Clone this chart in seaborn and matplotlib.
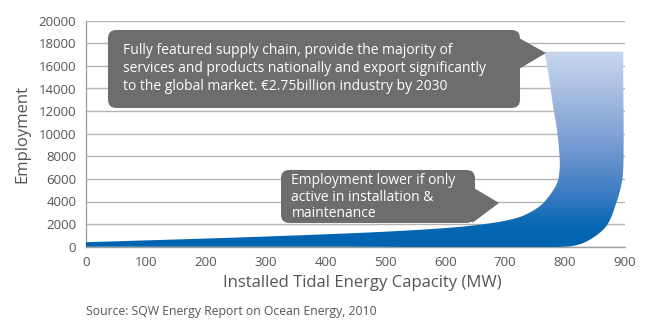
import numpy as np
import matplotlib
matplotlib.use("Agg")
import matplotlib.pyplot as plt
from matplotlib.patches import Polygon, FancyBboxPatch
from matplotlib.colors import LinearSegmentedColormap
import seaborn as sns

# Outline of the employment band (capacity in MW, employment in jobs)
upper_mw = [0, 100, 200, 300, 400, 500, 600, 650, 700, 730, 758, 775, 787, 791, 790, 786, 780, 773, 766]
upper_jobs = [400, 560, 720, 900, 1100, 1330, 1650, 1900, 2300, 2750, 3600, 4600, 5700, 7000, 8500, 10500, 12400, 15000, 17260]
lower_mw = [0, 400, 799, 815, 835, 868, 887, 895, 897, 897]
lower_jobs = [0, 0, 0, 90, 440, 1770, 4130, 5800, 6800, 17260]

x_ticks = list(range(0, 901, 100))
y_ticks = list(range(0, 20001, 2000))

note_high = ("Fully featured supply chain, provide the majority of\n"
             "services and products nationally and export significantly\n"
             "to the global market. \u20ac2.75billion industry by 2030")
note_low = "Employment lower if only\nactive in installation &\nmaintenance"
source = "Source: SQW Energy Report on Ocean Energy, 2010"


def smooth_edge(xs, ys, n=24):
    """Centripetal Catmull-Rom curve through the given outline points (in pixel-like scale)."""
    sx, sy = 1 / 0.599, 88.5  # data units per pixel
    p = np.column_stack([np.asarray(xs, float) / sx, np.asarray(ys, float) / sy])
    p = np.vstack([2 * p[0] - p[1], p, 2 * p[-1] - p[-2]])
    out = []
    for i in range(1, len(p) - 2):
        p0, p1, p2, p3 = p[i - 1], p[i], p[i + 1], p[i + 2]
        t0 = 0.0
        t1 = t0 + max(np.linalg.norm(p1 - p0), 1e-6) ** 0.5
        t2 = t1 + max(np.linalg.norm(p2 - p1), 1e-6) ** 0.5
        t3 = t2 + max(np.linalg.norm(p3 - p2), 1e-6) ** 0.5
        for t in np.linspace(t1, t2, n, endpoint=False):
            a1 = (t1 - t) / (t1 - t0) * p0 + (t - t0) / (t1 - t0) * p1
            a2 = (t2 - t) / (t2 - t1) * p1 + (t - t1) / (t2 - t1) * p2
            a3 = (t3 - t) / (t3 - t2) * p2 + (t - t2) / (t3 - t2) * p3
            b1 = (t2 - t) / (t2 - t0) * a1 + (t - t0) / (t2 - t0) * a2
            b2 = (t3 - t) / (t3 - t1) * a2 + (t - t1) / (t3 - t1) * a3
            out.append((t2 - t) / (t2 - t1) * b1 + (t - t1) / (t2 - t1) * b2)
    out.append(p[-2])
    out = np.array(out)
    return out[:, 0] * sx, out[:, 1] * sy


sns.set_theme(style="whitegrid")
plt.rcParams["font.family"] = ["Open Sans", "DejaVu Sans"]

fig = plt.figure(figsize=(6.51, 3.23), dpi=100)
ax = fig.add_axes([86 / 651, 1 - 246.7 / 323, (625 - 86) / 651, (246.7 - 20.7) / 323])

ax.set_xlim(0, 900)
ax.set_ylim(0, 20000)
ax.set_xticks(x_ticks)
ax.set_yticks(y_ticks)
ax.grid(axis="y", color="#b4b4b4", linewidth=1.0)
ax.grid(axis="x", visible=False)
for side in ("top", "right"):
    ax.spines[side].set_visible(False)
for side in ("left", "bottom"):
    ax.spines[side].set_visible(True)
    ax.spines[side].set_color("#a0a0a0")
    ax.spines[side].set_linewidth(1.0)
ax.tick_params(axis="both", colors="#a0a0a0", labelcolor="#555555", labelsize=9.5,
               direction="out", length=4, width=1, pad=3)

# Band polygon with vertical gradient fill
ux, uy = smooth_edge(upper_mw, upper_jobs)
lx, ly = smooth_edge(lower_mw, lower_jobs)
outline = np.vstack([np.column_stack([lx, ly]), np.column_stack([ux[::-1], uy[::-1]])])
band = Polygon(outline, closed=True, facecolor="none", edgecolor="none", transform=ax.transData)
ax.add_patch(band)
cmap = LinearSegmentedColormap.from_list(
    "band", [(0.0, "#0063af"), (0.1, "#0667b3"), (0.3, "#427fc3"),
             (0.55, "#7c9fd4"), (0.8, "#a9bfe3"), (1.0, "#c9d6ef")])
grad = np.linspace(0, 1, 256).reshape(-1, 1)
img = ax.imshow(grad, cmap=cmap, origin="lower", aspect="auto",
                extent=[0, 900, 0, max(upper_jobs)], zorder=3, interpolation="bicubic")
img.set_clip_path(band)
ax.set_xlim(0, 900)
ax.set_ylim(0, 20000)

callout = "#6d6d6d"
# Callout above the curve
ax.add_patch(FancyBboxPatch((36.7, 12275), 724.7 - 36.7, 19180 - 12275,
                            boxstyle="round,pad=0,rounding_size=14", mutation_aspect=53,
                            facecolor=callout, edgecolor="none", zorder=4))
ax.add_patch(Polygon([(720, 18560), (768, 17140), (720, 15640)], closed=True,
                     facecolor=callout, edgecolor="none", zorder=4))
ax.text(61, 18020, note_high, color="white", fontsize=10, va="top", ha="left",
        linespacing=1.25, zorder=5)

# Callout for the lower scenario
ax.add_patch(FancyBboxPatch((325.6, 2100), 649.5 - 325.6, 6790 - 2100,
                            boxstyle="round,pad=0,rounding_size=14", mutation_aspect=53,
                            facecolor=callout, edgecolor="none", zorder=4))
ax.add_patch(Polygon([(645, 5285), (689.6, 3870), (645, 2100)], closed=True,
                     facecolor=callout, edgecolor="none", zorder=4))
ax.text(343, 6480, note_low, color="white", fontsize=10, va="top", ha="left",
        linespacing=1.12, zorder=5)

ax.set_xlabel("Installed Tidal Energy Capacity (MW)", fontsize=12, color="#555555", labelpad=3)
ax.xaxis.set_label_coords((362 - 86) / (625 - 86), -0.125)
ax.set_ylabel("Employment", fontsize=12, color="#555555", labelpad=6)

fig.text(86 / 651, 1 - 311.5 / 323, source, fontsize=8.8, color="#555555", va="center", ha="left")

fig.savefig("out.png", dpi=100)
